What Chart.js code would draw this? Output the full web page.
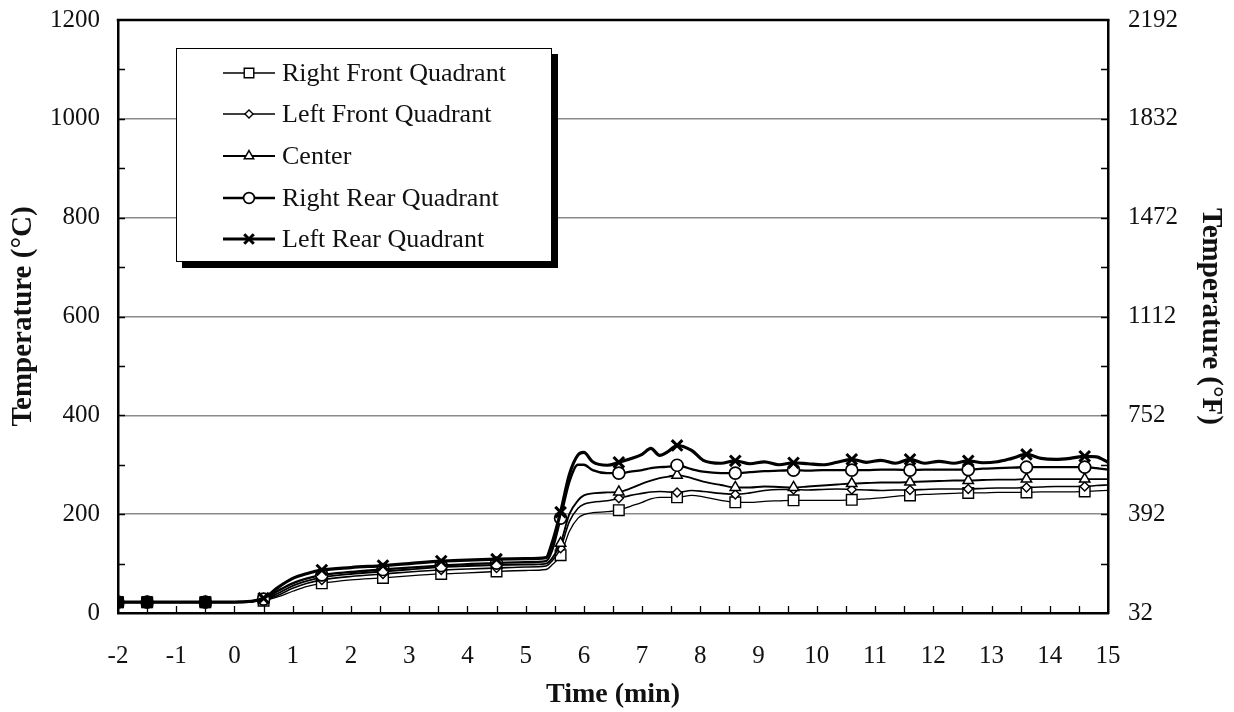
<!DOCTYPE html>
<html><head><meta charset="utf-8">
<script src="https://cdn.jsdelivr.net/npm/chart.js@4.4.0/dist/chart.umd.min.js"></script>
<style>
html,body{margin:0;padding:0;background:#fff;}
#wrap{position:relative;width:1234px;height:712px;}
#legend{position:absolute;left:176px;top:48px;width:374px;height:212px;border:1.5px solid #000;background:#fff;box-shadow:6px 6px 0 #000;}
.row{position:absolute;left:0;height:40px;width:370px;}
.row canvas{position:absolute;left:44px;top:5px;width:58px;height:30px;}
.row span{position:absolute;left:105px;top:0;line-height:40px;font-family:"Liberation Serif","Times New Roman",serif;font-size:26px;color:#111;white-space:nowrap;}
</style>
</head><body>
<div id="wrap">
<canvas id="c" width="1234" height="712"></canvas>
<div id="legend"></div>
</div>
<script>
// ---------- DATA ----------
const time = [-2,-1.5,-1,-0.5,0,0.5,0.75,1,1.25,1.5,2,2.55,3,3.55,4,4.5,5,5.35,5.45,5.6,5.75,5.9,6.0,6.15,6.4,6.6,6.8,7.0,7.15,7.3,7.45,7.6,7.85,8.05,8.35,8.6,8.85,9.1,9.35,9.6,9.85,10.1,10.35,10.6,10.85,11.1,11.35,11.6,11.85,12.1,12.35,12.6,12.85,13.1,13.35,13.6,13.85,14.1,14.35,14.6,14.8,15];

const rightFront = [22,22,22,22,22,25,33,44,54,60,67,71,75,79,81,84,86,88,97,117,165,192,199,203,205,208,216,224,231,234,234,234,238,235,228,224,224,226,227,228,228,228,228,229,231,233,236,238,240,241,242,243,243,244,244,244,245,245,245,246,247,248];
const leftFront = [22,22,22,22,22,26,36,50,60,67,74,79,83,87,89,91,93,95,105,131,185,212,220,224,227,232,238,242,245,246,245,244,248,246,242,240,243,248,250,250,249,250,251,250,249,248,249,249,250,251,251,251,252,253,253,254,255,256,256,256,258,259];
const center = [22,22,22,22,22,27,40,55,65,72,79,84,88,93,95,97,98,100,110,141,200,228,238,242,244,245,252,262,268,273,276,279,273,266,259,254,254,256,255,254,256,258,260,262,263,264,264,265,266,267,268,268,269,270,270,271,271,271,271,271,271,271];
const rightRear = [22,22,22,22,22,28,45,60,70,77,83,88,92,96,99,101,103,105,125,192,265,300,300,289,283,283,286,289,293,295,296,299,291,286,283,283,285,287,288,289,288,289,289,289,289,290,290,289,290,290,290,290,292,293,294,295,295,295,295,295,293,290];
const leftRear = [22,22,22,22,22,30,52,70,80,87,92,96,100,105,107,109,110,112,140,204,280,320,325,306,299,305,312,321,333,319,327,339,329,309,303,308,302,306,300,304,302,300,305,311,305,309,303,311,303,307,303,308,304,306,313,321,313,311,313,317,316,305];

const markerTimes = [-2,-1.5,-0.5,0.5,1.5,2.55,3.55,4.5,5.6,6.6,7.6,8.6,9.6,10.6,11.6,12.6,13.6,14.6];
const seriesNames = ["Right Front Quadrant","Left Front Quadrant","Center","Right Rear Quadrant","Left Rear Quadrant"];
const celsiusTicks = [0,200,400,600,800,1000,1200];
const fahrenheitTicks = [32,392,752,1112,1472,1832,2192];
const timeTicks = [-2,-1,0,1,2,3,4,5,6,7,8,9,10,11,12,13,14,15];

// ---------- STYLES ----------
const styles = [
  {style:'rect',    r:7.5, lw:1.3, plw:1.4},
  {style:'rectRot', r:4.5, lw:1.6, plw:1.4},
  {style:'triangle',r:6,   lw:1.9, plw:1.5},
  {style:'circle',  r:6,   lw:2.3, plw:1.7},
  {style:'crossRot',r:7.5, lw:3.2, plw:3.0}
];
const values = [rightFront,leftFront,center,rightRear,leftRear];

const datasets = values.map((vals,i)=>({
  label: seriesNames[i],
  data: time.map((t,k)=>({x:t,y:vals[k]})),
  borderColor:'#000',
  borderWidth:styles[i].lw,
  backgroundColor:'#fff',
  pointStyle:styles[i].style,
  pointBorderColor:'#000',
  // overlapping markers before ignition merge into solid black blobs
  pointBackgroundColor: ctx => time[ctx.dataIndex] < 0 ? '#000' : '#fff',
  pointBorderWidth:styles[i].plw,
  pointRadius: ctx => markerTimes.includes(time[ctx.dataIndex]) ? styles[i].r : 0,
  cubicInterpolationMode:'monotone',
  fill:false,
  order: 5 - i,
  xAxisID:'x', yAxisID:'y'
}));

const serif = '"Liberation Serif","Times New Roman",serif';

const frameAndTicks = {
  id:'frameAndTicks',
  beforeDatasetsDraw(chart){
    const {ctx, chartArea:a, scales} = chart;
    const x = scales.x, y = scales.y, y2 = scales.y2;
    ctx.save();
    ctx.strokeStyle='#000'; ctx.lineWidth=1.3;
    ctx.beginPath();
    for (let v=100; v<1200; v+=100){
      const py = Math.round(y.getPixelForValue(v))+0.5;
      ctx.moveTo(a.left, py); ctx.lineTo(a.left+7, py);
    }
    for (let f=32+180; f<2192; f+=180){
      const py = Math.round(y2.getPixelForValue(f))+0.5;
      ctx.moveTo(a.right, py); ctx.lineTo(a.right-7, py);
    }
    for (let t=-1.5; t<15; t+=0.5){
      const px = Math.round(x.getPixelForValue(t))+0.5;
      ctx.moveTo(px, a.bottom); ctx.lineTo(px, a.bottom-7);
    }
    ctx.stroke();
    // top border of the plot frame
    ctx.lineWidth=2.5;
    ctx.beginPath();
    ctx.moveTo(a.left-1.25, y.getPixelForValue(1200)); ctx.lineTo(a.right+1.25, y.getPixelForValue(1200));
    ctx.stroke();
    ctx.restore();
  }
};

new Chart(document.getElementById('c'), {
  type:'line',
  data:{datasets},
  options:{
    responsive:false, animation:false, devicePixelRatio:1,
    layout:{padding:{top:20,left:0,right:0,bottom:0}},
    plugins:{legend:{display:false}, tooltip:{enabled:false}},
    scales:{
      x:{type:'linear', position:'bottom', min:-2, max:15,
        afterBuildTicks:s=>{s.ticks=timeTicks.map(v=>({value:v}));},
        ticks:{font:{family:serif,size:25}, color:'#111', padding:28, maxRotation:0, autoSkip:false, callback:v=>String(v)},
        grid:{display:false, drawTicks:false},
        border:{display:true, color:'#000', width:2.5},
        title:{display:true, text:'Time (min)', font:{family:serif,size:28,weight:'bold'}, color:'#111', padding:{top:7,bottom:0}},
        afterFit:s=>{s.height=99;}
      },
      y:{type:'linear', position:'left', min:0, max:1200,
        afterBuildTicks:s=>{s.ticks=celsiusTicks.map(v=>({value:v}));},
        ticks:{font:{family:serif,size:25}, color:'#111', padding:2, callback:v=>String(v)},
        grid:{drawTicks:true, tickLength:16, tickColor:'rgba(0,0,0,0)', color:c=>(c.tick && (c.tick.value===0||c.tick.value===1200))?'rgba(0,0,0,0)':'#8a8a8a', lineWidth:1.5},
        border:{display:true, color:'#000', width:2.5},
        title:{display:true, text:'Temperature (°C)', font:{family:serif,size:29,weight:'bold'}, color:'#111', padding:{top:6,bottom:0}},
        afterFit:s=>{s.width=118;}
      },
      y2:{type:'linear', position:'right', min:32, max:2192,
        afterBuildTicks:s=>{s.ticks=fahrenheitTicks.map(v=>({value:v}));},
        ticks:{font:{family:serif,size:25}, color:'#111', padding:2, callback:v=>String(v)},
        grid:{display:false, drawTicks:true, tickLength:18},
        border:{display:true, color:'#000', width:2.5},
        title:{display:true, text:'Temperature (°F)', font:{family:serif,size:29,weight:'bold'}, color:'#111', padding:{top:6,bottom:0}},
        afterFit:s=>{s.width=126;}
      }
    }
  },
  plugins:[frameAndTicks]
});

// ---------- HTML LEGEND ----------
function drawMarker(ctx, style, x, y, r, lw){
  ctx.save();
  ctx.lineWidth = lw; ctx.strokeStyle='#000'; ctx.fillStyle='#fff';
  ctx.beginPath();
  if (style==='rect'){ const s=Math.SQRT1_2*r; ctx.rect(x-s,y-s,2*s,2*s); ctx.fill(); ctx.stroke(); }
  else if (style==='rectRot'){ ctx.moveTo(x,y-r); ctx.lineTo(x+r,y); ctx.lineTo(x,y+r); ctx.lineTo(x-r,y); ctx.closePath(); ctx.fill(); ctx.stroke(); }
  else if (style==='triangle'){ ctx.moveTo(x,y-r); ctx.lineTo(x+r*0.866,y+r*0.5); ctx.lineTo(x-r*0.866,y+r*0.5); ctx.closePath(); ctx.fill(); ctx.stroke(); }
  else if (style==='circle'){ ctx.arc(x,y,r,0,Math.PI*2); ctx.fill(); ctx.stroke(); }
  else if (style==='crossRot'){ const d=r*0.707; ctx.moveTo(x-d,y-d); ctx.lineTo(x+d,y+d); ctx.moveTo(x+d,y-d); ctx.lineTo(x-d,y+d); ctx.stroke(); }
  ctx.restore();
}
const legend = document.getElementById('legend');
const rowCenters = [24,65,107,149,190];
seriesNames.forEach((name,i)=>{
  const row = document.createElement('div');
  row.className='row'; row.style.top=(rowCenters[i]-20)+'px';
  const cv = document.createElement('canvas'); cv.width=58; cv.height=30;
  const cx = cv.getContext('2d');
  cx.strokeStyle='#000'; cx.lineWidth=styles[i].lw;
  cx.beginPath(); cx.moveTo(2,15); cx.lineTo(54,15); cx.stroke();
  drawMarker(cx, styles[i].style, 28, 15, styles[i].r*0.9, styles[i].plw);
  const sp = document.createElement('span'); sp.textContent=name;
  row.appendChild(cv); row.appendChild(sp); legend.appendChild(row);
});
</script>
</body></html>
